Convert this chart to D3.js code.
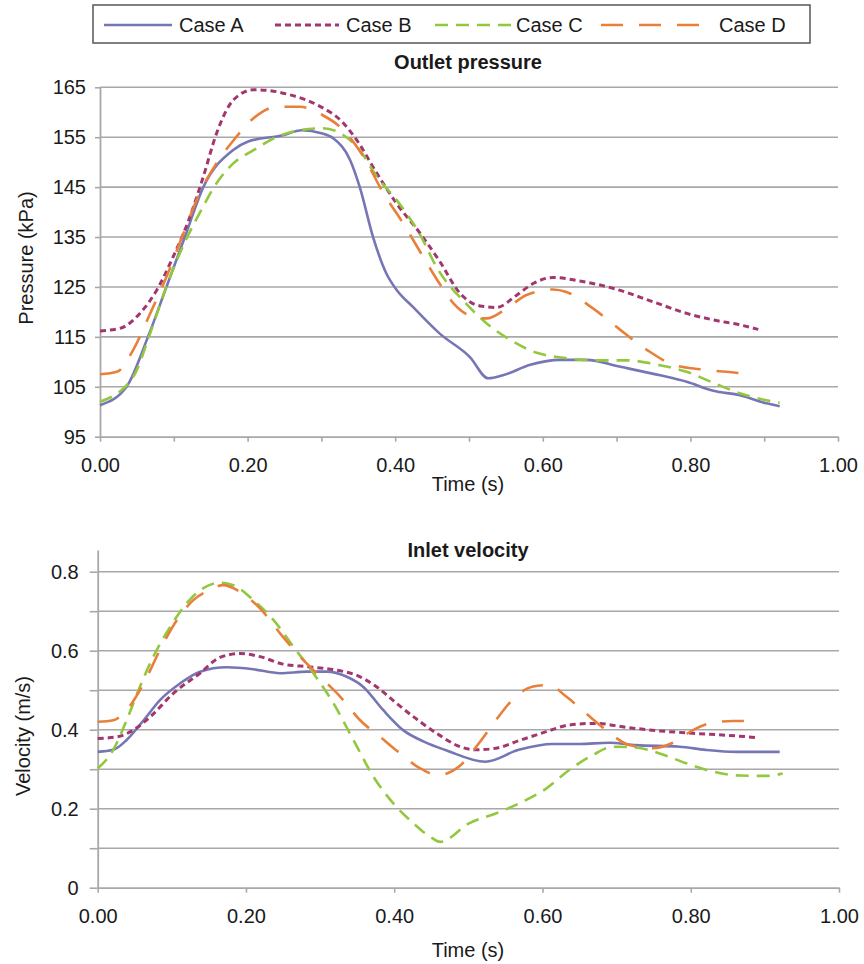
<!DOCTYPE html>
<html>
<head>
<meta charset="utf-8">
<script src="https://cdnjs.cloudflare.com/ajax/libs/d3/7.8.5/d3.min.js"></script>
<style>
  body { margin: 0; background: #fff; }
  svg { display: block; font-family: "Liberation Sans", Arial, sans-serif; }
</style>
</head>
<body>
<div id="chart"></div>
<script>
// Chart data (time in s)
const caseNames = ["Case A", "Case B", "Case C", "Case D"];

const timeTicks = [0, 0.2, 0.4, 0.6, 0.8, 1.0];
const timeMinorTicks = [0, 0.1, 0.2, 0.3, 0.4, 0.5, 0.6, 0.7, 0.8, 0.9, 1.0];
const pressureTicks = [95, 105, 115, 125, 135, 145, 155, 165];
const velocityTicks = [0, 0.1, 0.2, 0.3, 0.4, 0.5, 0.6, 0.7, 0.8];

// Outlet pressure (kPa)
const pressureA = [
    [0, 101.3], [0.036, 105], [0.065, 115], [0.09, 125], [0.115, 135], [0.14, 145],
    [0.18, 152.4], [0.2, 154.1], [0.248, 155.4], [0.273, 156.4], [0.3, 155.8], [0.316, 154.8],
    [0.339, 150.4], [0.352, 145], [0.37, 135], [0.388, 127.7], [0.402, 124.4], [0.424, 121],
    [0.46, 115.7], [0.501, 111], [0.526, 106.7], [0.546, 107.3], [0.583, 109.4], [0.623, 110.4],
    [0.659, 110.4], [0.705, 109], [0.759, 107.3], [0.795, 106], [0.831, 104.2], [0.867, 103.3],
    [0.903, 101.7], [0.921, 101.1]
];
const pressureB = [
    [0, 116.2], [0.027, 116.7], [0.054, 119.7], [0.077, 124.4], [0.099, 131], [0.122, 139.1],
    [0.14, 147.1], [0.158, 155.8], [0.181, 162.5], [0.208, 164.5], [0.226, 164.4], [0.257, 163.5],
    [0.294, 161.5], [0.33, 157.8], [0.348, 154.4], [0.375, 147.8], [0.402, 141.7], [0.434, 135.7],
    [0.46, 130.2], [0.488, 123.7], [0.515, 121.2], [0.537, 120.9], [0.565, 123.4], [0.587, 125.7],
    [0.614, 126.9], [0.65, 126.2], [0.696, 124.7], [0.75, 122], [0.795, 119.7], [0.831, 118.4],
    [0.867, 117.4], [0.892, 116.5]
];
const pressureC = [
    [0, 102], [0.045, 107], [0.068, 115.7], [0.09, 125.1], [0.115, 134], [0.135, 139.8],
    [0.158, 145.8], [0.181, 149.8], [0.208, 152.4], [0.24, 155.1], [0.271, 156.4], [0.302, 156.8],
    [0.33, 155.4], [0.352, 152.4], [0.375, 147.1], [0.402, 142.4], [0.434, 135.4], [0.456, 129],
    [0.497, 121.5], [0.524, 117.7], [0.556, 114.4], [0.592, 111.8], [0.628, 110.8], [0.668, 110.3],
    [0.713, 110.3], [0.759, 109.3], [0.795, 108], [0.831, 105.8], [0.867, 103.7], [0.903, 102.3],
    [0.921, 101.8]
];
const pressureD = [
    [0, 107.5], [0.023, 108], [0.045, 112.4], [0.068, 119.7], [0.09, 127], [0.113, 135.7],
    [0.135, 143.8], [0.158, 149.8], [0.181, 154.4], [0.208, 158.8], [0.24, 161.1], [0.271, 161.1],
    [0.302, 159.4], [0.33, 156.4], [0.357, 151.1], [0.384, 143.8], [0.411, 137.7], [0.434, 132],
    [0.46, 125.7], [0.479, 121.7], [0.506, 119], [0.524, 118.7], [0.551, 120.7], [0.578, 123.4],
    [0.614, 124.5], [0.632, 124], [0.668, 120.7], [0.705, 116.4], [0.741, 112.4], [0.777, 109.4],
    [0.813, 108.5], [0.849, 108], [0.881, 107.5]
];

// Inlet velocity (m/s)
const velocityA = [
    [0, 0.344], [0.021, 0.349], [0.039, 0.374], [0.062, 0.424], [0.084, 0.475], [0.111, 0.517],
    [0.138, 0.547], [0.174, 0.558], [0.21, 0.553], [0.246, 0.543], [0.282, 0.547], [0.309, 0.547],
    [0.336, 0.534], [0.358, 0.509], [0.385, 0.45], [0.412, 0.399], [0.44, 0.37], [0.47, 0.348],
    [0.523, 0.319], [0.568, 0.349], [0.614, 0.364], [0.65, 0.364], [0.69, 0.367], [0.726, 0.361],
    [0.785, 0.357], [0.82, 0.349], [0.861, 0.344], [0.92, 0.344]
];
const velocityB = [
    [0, 0.378], [0.026, 0.382], [0.048, 0.399], [0.071, 0.433], [0.102, 0.492], [0.138, 0.543],
    [0.165, 0.583], [0.192, 0.593], [0.219, 0.585], [0.25, 0.566], [0.286, 0.559], [0.322, 0.551],
    [0.349, 0.538], [0.376, 0.509], [0.403, 0.467], [0.435, 0.42], [0.462, 0.385], [0.485, 0.36],
    [0.51, 0.349], [0.537, 0.353], [0.568, 0.372], [0.605, 0.395], [0.636, 0.412], [0.672, 0.416],
    [0.713, 0.406], [0.758, 0.397], [0.803, 0.391], [0.848, 0.386], [0.89, 0.38]
];
const velocityC = [
    [0, 0.302], [0.021, 0.349], [0.039, 0.424], [0.057, 0.509], [0.075, 0.585], [0.098, 0.661],
    [0.12, 0.72], [0.142, 0.758], [0.165, 0.772], [0.183, 0.766], [0.21, 0.728], [0.237, 0.678],
    [0.264, 0.61], [0.291, 0.543], [0.318, 0.467], [0.345, 0.374], [0.372, 0.281], [0.399, 0.213],
    [0.426, 0.163], [0.45, 0.127], [0.462, 0.116], [0.501, 0.163], [0.537, 0.188], [0.568, 0.213],
    [0.605, 0.251], [0.636, 0.298], [0.668, 0.336], [0.695, 0.357], [0.726, 0.355], [0.758, 0.34],
    [0.794, 0.315], [0.83, 0.294], [0.866, 0.284], [0.902, 0.283], [0.924, 0.289]
];
const velocityD = [
    [0, 0.42], [0.021, 0.424], [0.039, 0.45], [0.062, 0.517], [0.084, 0.602], [0.107, 0.678],
    [0.129, 0.728], [0.151, 0.754], [0.169, 0.766], [0.192, 0.749], [0.219, 0.707], [0.246, 0.644],
    [0.273, 0.585], [0.3, 0.534], [0.327, 0.484], [0.354, 0.424], [0.381, 0.382], [0.408, 0.34],
    [0.435, 0.302], [0.46, 0.285], [0.487, 0.306], [0.514, 0.365], [0.537, 0.424], [0.564, 0.484],
    [0.586, 0.509], [0.609, 0.513], [0.632, 0.484], [0.659, 0.441], [0.686, 0.399], [0.717, 0.361],
    [0.749, 0.353], [0.776, 0.367], [0.803, 0.399], [0.83, 0.418], [0.857, 0.422], [0.882, 0.422]
];

// Series styles
const caseStyles = [
    { color: "#7676b6", width: 2.6, dash: null },
    { color: "#a2376f", width: 3, dash: "6,4" },
    { color: "#92c83e", width: 2.6, dash: "13,8" },
    { color: "#e8803a", width: 2.6, dash: "22,16" }
];

const gridColor = "#a8a8a8";
const textColor = "#1a1a1a";
const fontSize = "20px";

const svg = d3.select("#chart")
    .append("svg")
    .attr("width", 864)
    .attr("height", 964);

function DrawPanel(p) {
    const g = svg.append("g");

    // gridlines
    g.selectAll(".grid")
        .data(p.gridValues)
        .join("line")
        .attr("class", "grid")
        .attr("x1", p.x.range()[0])
        .attr("x2", p.x.range()[1])
        .attr("y1", d => p.y(d))
        .attr("y2", d => p.y(d))
        .style("stroke", gridColor)
        .style("stroke-width", 1.6);

    // y axis
    const yAxis = g.append("g")
        .attr("transform", `translate(${p.x.range()[0]},0)`)
        .call(d3.axisLeft(p.y)
            .tickValues(p.yTicks)
            .tickSize(p.yTickSize)
            .tickSizeOuter(0)
            .tickPadding(p.yTickPadding)
            .tickFormat(p.yFormat));

    // x axis
    const xAxis = g.append("g")
        .attr("transform", `translate(0,${p.y(p.yTicks[0])})`)
        .call(d3.axisBottom(p.x)
            .tickValues(p.xTicks)
            .tickSize(5)
            .tickSizeOuter(0)
            .tickPadding(16)
            .tickFormat(p.xFormat));

    [yAxis, xAxis].forEach(ax => {
        ax.select(".domain").style("stroke", gridColor).style("stroke-width", 1.8);
        ax.selectAll(".tick line").style("stroke", gridColor).style("stroke-width", 1.6);
        ax.selectAll(".tick text")
            .style("font-size", fontSize)
            .style("fill", textColor)
            .style("font-family", '"Liberation Sans", Arial, sans-serif');
    });

    // series
    const line = d3.line()
        .x(d => p.x(d[0]))
        .y(d => p.y(d[1]))
        .curve(d3.curveMonotoneX);

    g.selectAll(".series")
        .data(p.series)
        .join("path")
        .attr("class", "series")
        .attr("d", d => line(d))
        .style("fill", "none")
        .style("stroke", (d, i) => caseStyles[i].color)
        .style("stroke-width", (d, i) => caseStyles[i].width)
        .style("stroke-dasharray", (d, i) => caseStyles[i].dash)
        .style("stroke-linecap", "butt");

    // title
    g.append("text")
        .attr("x", p.titleX)
        .attr("y", p.titleY)
        .attr("text-anchor", "middle")
        .style("font-size", fontSize)
        .style("font-weight", "bold")
        .style("fill", textColor)
        .text(p.title);

    // x label
    g.append("text")
        .attr("x", p.titleX)
        .attr("y", p.xLabelY)
        .attr("text-anchor", "middle")
        .style("font-size", fontSize)
        .style("fill", textColor)
        .text("Time (s)");

    // y label
    g.append("text")
        .attr("transform", `translate(${p.yLabelX},${p.yLabelY}) rotate(-90)`)
        .attr("text-anchor", "middle")
        .style("font-size", fontSize)
        .style("fill", textColor)
        .text(p.yLabel);
}

// Outlet pressure panel
DrawPanel({
    x: d3.scaleLinear().domain([0, 1]).range([100, 838]),
    y: d3.scaleLinear().domain([95, 165]).range([436.7, 87.3]),
    gridValues: pressureTicks.slice(1),
    yTicks: pressureTicks,
    yTickSize: 5,
    yTickPadding: 9,
    yFormat: d => d,
    xTicks: timeMinorTicks,
    xFormat: d => (Math.round(d * 10) % 2 === 0 ? d3.format(".2f")(d) : ""),
    series: [pressureA, pressureB, pressureC, pressureD],
    title: "Outlet pressure",
    titleX: 468,
    titleY: 69,
    xLabelY: 491,
    yLabel: "Pressure (kPa)",
    yLabelX: 33,
    yLabelY: 258
});

// Inlet velocity panel
DrawPanel({
    x: d3.scaleLinear().domain([0, 1]).range([97.7, 839]),
    y: d3.scaleLinear().domain([0, 0.855]).range([887.7, 550]),
    gridValues: velocityTicks.slice(1),
    yTicks: velocityTicks,
    yTickSize: 8,
    yTickPadding: 11,
    yFormat: d => (Math.round(d * 10) % 2 === 0 ? (d === 0 ? "0" : d3.format(".1f")(d)) : ""),
    xTicks: timeTicks,
    xFormat: d3.format(".2f"),
    series: [velocityA, velocityB, velocityC, velocityD],
    title: "Inlet velocity",
    titleX: 468,
    titleY: 557,
    xLabelY: 957,
    yLabel: "Velocity (m/s)",
    yLabelX: 30,
    yLabelY: 736
});

// Legend
const legend = svg.append("g");
legend.append("rect")
    .attr("x", 93)
    .attr("y", 5)
    .attr("width", 717)
    .attr("height", 38)
    .style("fill", "#fff")
    .style("stroke", "#555")
    .style("stroke-width", 1.5);

const legendLineX = [104, 275, 435, 601];
const legendLineLen = [68, 64, 80, 114];
const legendTextX = [179, 346, 516, 719];

caseNames.forEach((name, i) => {
    legend.append("line")
        .attr("x1", legendLineX[i])
        .attr("x2", legendLineX[i] + legendLineLen[i])
        .attr("y1", 25)
        .attr("y2", 25)
        .style("stroke", caseStyles[i].color)
        .style("stroke-width", caseStyles[i].width)
        .style("stroke-dasharray", caseStyles[i].dash);
    legend.append("text")
        .attr("x", legendTextX[i])
        .attr("y", 32)
        .style("font-size", fontSize)
        .style("fill", textColor)
        .text(name);
});
</script>
</body>
</html>
